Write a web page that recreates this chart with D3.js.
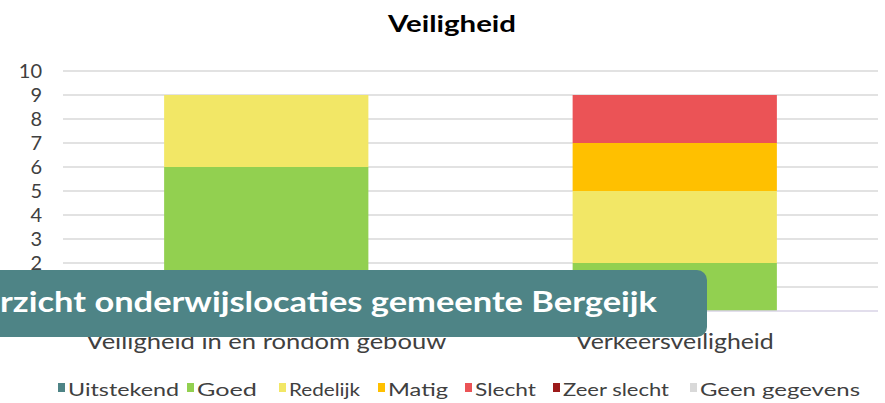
<!DOCTYPE html>
<html>
<head>
<meta charset="utf-8">
<script src="https://cdn.jsdelivr.net/npm/d3@7"></script>
<style>
  html, body { margin: 0; padding: 0; background: #ffffff; }
  svg { display: block; }
  text { font-family: "Lato", "Open Sans", sans-serif; }
</style>
</head>
<body>
<svg id="chart" width="885" height="403"></svg>
<script>
// ---- data ----
const categories = ["Veiligheid in en rondom gebouw", "Verkeersveiligheid"];
const seriesNames = ["Uitstekend", "Goed", "Redelijk", "Matig", "Slecht", "Zeer slecht", "Geen gegevens"];
const uitstekend   = [0, 0];
const goed         = [6, 2];
const redelijk     = [3, 3];
const matig        = [0, 2];
const slecht       = [0, 2];
const zeerSlecht   = [0, 0];
const geenGegevens = [0, 0];
const yTicks = [0, 1, 2, 3, 4, 5, 6, 7, 8, 9, 10];
const chartTitle = "Veiligheid";
const bannerText = "rzicht onderwijslocaties gemeente Bergeijk";

const colors = ["#4e8486", "#92d050", "#f2e766", "#ffc000", "#eb5356", "#9c1a1a", "#d9d9d9"];
const seriesValues = [uitstekend, goed, redelijk, matig, slecht, zeerSlecht, geenGegevens];

const table = categories.map((c, i) => {
  const row = { category: c };
  seriesNames.forEach((s, j) => { row[s] = seriesValues[j][i]; });
  return row;
});

const svg = d3.select("#chart");

const x = d3.scaleBand().domain(categories).range([62, 879]).paddingInner(0.5).paddingOuter(0.25);
const y = d3.scaleLinear().domain([0, 10]).range([311, 71]);

// gridlines
svg.append("g").selectAll("line").data(yTicks.filter(d => d > 0)).join("line")
  .attr("x1", 63).attr("x2", 878)
  .attr("y1", d => y(d)).attr("y2", d => y(d))
  .attr("stroke", "#d9d9d9").attr("stroke-width", 1.6);

// y labels
svg.append("g").selectAll("text").data(yTicks).join("text")
  .attr("x", 42).attr("y", d => y(d) + 7)
  .attr("text-anchor", "end")
  .attr("font-size", 20).attr("fill", "#404040")
  .text(d => d);

// stacked bars
const stack = d3.stack().keys(seriesNames)(table);
svg.append("g").selectAll("g").data(stack).join("g")
  .attr("fill", (d, i) => colors[i])
  .selectAll("rect").data(d => d).join("rect")
  .attr("x", d => x(d.data.category))
  .attr("width", x.bandwidth())
  .attr("y", d => y(d[1]))
  .attr("height", d => y(d[0]) - y(d[1]));

// baseline
svg.append("line").attr("x1", 63).attr("x2", 878).attr("y1", y(0)).attr("y2", y(0))
  .attr("stroke", "#d9d3e6").attr("stroke-width", 1.6);

// category labels
const catWidths = [360, 198];
svg.append("g").selectAll("text").data(categories).join("text")
  .attr("x", d => x(d) + x.bandwidth() / 2).attr("y", 349)
  .attr("text-anchor", "middle").attr("font-size", 21).attr("fill", "#404040")
  .attr("textLength", (d, i) => catWidths[i]).attr("lengthAdjust", "spacingAndGlyphs")
  .text(d => d);

// title
svg.append("text").attr("x", 452).attr("y", 32).attr("text-anchor", "middle")
  .attr("font-size", 23).attr("font-weight", "bold").attr("fill", "#000")
  .attr("textLength", 128).attr("lengthAdjust", "spacingAndGlyphs")
  .text(chartTitle);

// legend
const legendX = [58, 187, 279, 378, 465, 553, 690];
const legendW = [111, 60, 71, 60, 61, 106, 160];
const lg = svg.append("g").selectAll("g").data(seriesNames).join("g")
  .attr("transform", (d, i) => `translate(${legendX[i]},0)`);
lg.append("rect").attr("x", 0).attr("y", 383).attr("width", 7).attr("height", 9)
  .attr("fill", (d, i) => colors[i]);
lg.append("text").attr("x", 10).attr("y", 396).attr("font-size", 18).attr("fill", "#404040")
  .attr("textLength", (d, i) => legendW[i]).attr("lengthAdjust", "spacingAndGlyphs")
  .text(d => d);

// banner overlay
const bannerPath = d3.path();
const bx0 = -20, by0 = 270, bx1 = 707, by1 = 337, r = 10;
bannerPath.moveTo(bx0, by0);
bannerPath.lineTo(bx1 - r, by0);
bannerPath.arcTo(bx1, by0, bx1, by0 + r, r);
bannerPath.lineTo(bx1, by1 - r);
bannerPath.arcTo(bx1, by1, bx1 - r, by1, r);
bannerPath.lineTo(bx0, by1);
bannerPath.closePath();
svg.append("path").attr("d", bannerPath.toString()).attr("fill", "#4e8486");
svg.append("text").attr("x", 0).attr("y", 312)
  .attr("font-size", 28).attr("font-weight", "bold").attr("fill", "#ffffff")
  .attr("textLength", 657).attr("lengthAdjust", "spacingAndGlyphs")
  .text(bannerText);
</script>
</body>
</html>
